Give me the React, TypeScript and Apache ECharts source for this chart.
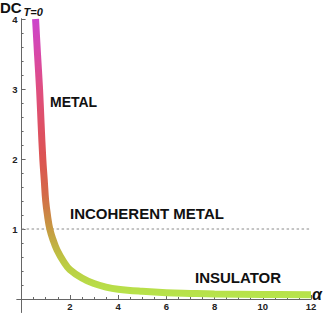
import React, { useEffect, useRef } from "react";
import * as echarts from "echarts";

const alphaValues = [0.58, 0.66, 0.745, 0.81, 0.88, 0.94, 1.0, 1.08, 1.17, 1.3, 1.47, 1.75, 2.0, 2.5, 3.0, 3.5, 4.0, 5.0, 6.0, 7.0, 8.0, 10.0, 12.0];
const dcValues = [4.0, 3.5, 3.0, 2.5, 2.0, 1.7, 1.4, 1.18, 1.0, 0.85, 0.7, 0.53, 0.42, 0.3, 0.22, 0.17, 0.14, 0.11, 0.09, 0.08, 0.072, 0.065, 0.06];
const thresholdLine = [[0, 1], [12, 1]];
const xMajorTicks = [2, 4, 6, 8, 10, 12];
const xMinorTicks = [0.5, 1, 1.5, 2.5, 3, 3.5, 4.5, 5, 5.5, 6.5, 7, 7.5, 8.5, 9, 9.5, 10.5, 11, 11.5];
const yMajorTicks = [1, 2, 3, 4];
const yMinorTicks = [0.2, 0.4, 0.6, 0.8, 1.2, 1.4, 1.6, 1.8, 2.2, 2.4, 2.6, 2.8, 3.2, 3.4, 3.6, 3.8];
const gradientColors = ["#b6e64c", "#bccc42", "#c69a42", "#d46a48", "#dc5452", "#de5066", "#df4f80", "#d848a8", "#cc44cc"];

const FONT = "'Liberation Sans', Arial, sans-serif";
const AXIS_COLOR = "#666";
const X_MIN = -0.19, X_MAX = 12, Y_MIN = -0.19, Y_MAX = 4;

export default function App() {
  const ref = useRef<HTMLDivElement>(null);
  useEffect(() => {
    if (!ref.current) return;
    const chart = echarts.init(ref.current, undefined, { renderer: "svg" });
    const curve = alphaValues.map((a, i) => [a, dcValues[i]]);
    const axisLineBase = { show: true, onZero: true, lineStyle: { color: AXIS_COLOR, width: 1 } };
    const labelStyle = { fontSize: 9.5, fontWeight: "bold", color: "#222", fontFamily: FONT, lineHeight: 10 };
    chart.setOption({
      animation: false,
      grid: { left: 17, top: 19, width: 294, height: 293.3, containLabel: false, outerBoundsMode: "none" },
      xAxis: [
        {
          type: "value", min: X_MIN, max: X_MAX, position: "bottom",
          axisLine: axisLineBase,
          axisTick: { show: true, inside: true, length: 4, customValues: xMajorTicks, lineStyle: { color: AXIS_COLOR } },
          axisLabel: { show: false },
          splitLine: { show: false },
        },
        {
          type: "value", min: X_MIN, max: X_MAX, position: "bottom",
          axisLine: axisLineBase,
          axisTick: { show: true, inside: true, length: 2, customValues: xMinorTicks, lineStyle: { color: AXIS_COLOR } },
          axisLabel: { show: false },
          splitLine: { show: false },
        },
        {
          type: "value", min: X_MIN, max: X_MAX, position: "bottom", offset: -13.3,
          axisLine: { show: false, onZero: false },
          axisTick: { show: false },
          axisLabel: { ...labelStyle, customValues: xMajorTicks, margin: 2.5 },
          splitLine: { show: false },
        },
      ],
      yAxis: [
        {
          type: "value", min: Y_MIN, max: Y_MAX, position: "left",
          axisLine: axisLineBase,
          axisTick: { show: true, inside: true, length: 4, customValues: yMajorTicks, lineStyle: { color: AXIS_COLOR } },
          axisLabel: { show: false },
          splitLine: { show: false },
        },
        {
          type: "value", min: Y_MIN, max: Y_MAX, position: "left",
          axisLine: axisLineBase,
          axisTick: { show: true, inside: true, length: 2, customValues: yMinorTicks, lineStyle: { color: AXIS_COLOR } },
          axisLabel: { show: false },
          splitLine: { show: false },
        },
        {
          type: "value", min: Y_MIN, max: Y_MAX, position: "left", offset: -4.6,
          axisLine: { show: false, onZero: false },
          axisTick: { show: false },
          axisLabel: { ...labelStyle, customValues: yMajorTicks, margin: 4 },
          splitLine: { show: false },
        },
      ],
      visualMap: {
        type: "continuous", show: false, seriesIndex: 0, dimension: 1, min: 0, max: 4,
        inRange: { color: gradientColors },
      },
      series: [
        {
          type: "line", xAxisIndex: 0, yAxisIndex: 0, data: curve, smooth: 0.4,
          showSymbol: false, symbol: "none",
          lineStyle: { width: 7, cap: "butt" },
          z: 3,
        },
        {
          type: "line", xAxisIndex: 0, yAxisIndex: 0, data: thresholdLine,
          showSymbol: false, symbol: "none",
          lineStyle: { width: 1, color: "#8a8a8a", type: [2.5, 2.5] },
          z: 2,
        },
      ],
      graphic: [
        {
          type: "text", x: 0, y: 7.5,
          style: { text: "DC", fontSize: 15, lineHeight: 13, fontWeight: "bold", fontFamily: FONT, fill: "#111", verticalAlign: "middle" },
        },
        {
          type: "text", x: 23.5, y: 11.5,
          style: { text: "T=0", fontSize: 11, lineHeight: 9, fontWeight: "bold", fontStyle: "italic", fontFamily: FONT, fill: "#111", verticalAlign: "middle" },
        },
        {
          type: "text", x: 312, y: 294,
          style: { text: "α", fontSize: 16, lineHeight: 12, fontWeight: "bold", fontStyle: "italic", fontFamily: FONT, fill: "#111", verticalAlign: "middle", align: "left" },
        },
        {
          type: "text", x: 50, y: 102,
          style: { text: "METAL", fontSize: 14, fontWeight: "bold", fontFamily: FONT, fill: "#111", verticalAlign: "middle" },
        },
        {
          type: "text", x: 70, y: 213.5,
          style: { text: "INCOHERENT METAL", fontSize: 15, fontWeight: "bold", fontFamily: FONT, fill: "#111", verticalAlign: "middle" },
        },
        {
          type: "text", x: 195, y: 277,
          style: { text: "INSULATOR", fontSize: 15, fontWeight: "bold", fontFamily: FONT, fill: "#111", verticalAlign: "middle" },
        },
      ],
    });
    return () => chart.dispose();
  }, []);
  return <div ref={ref} style={{ position: "fixed", left: 0, top: 0, width: 327, height: 313, background: "#fff" }} />;
}
